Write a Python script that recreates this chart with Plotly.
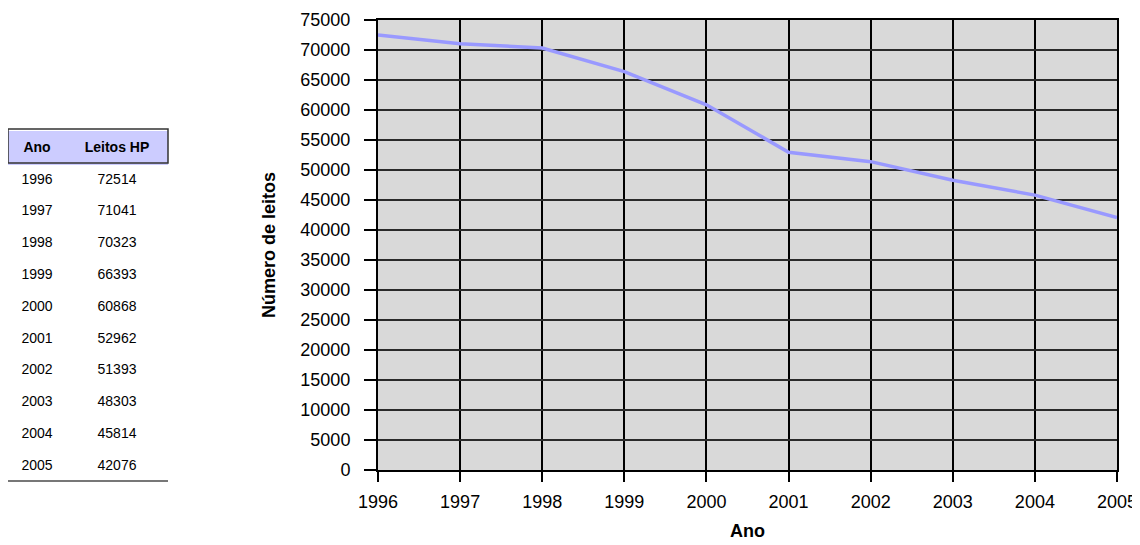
import plotly.graph_objects as go

anos = [1996, 1997, 1998, 1999, 2000, 2001, 2002, 2003, 2004, 2005]
leitos = [72514, 71041, 70323, 66393, 60868, 52962, 51393, 48303, 45814, 42076]
y_ticks = list(range(0, 75001, 5000))

# The page body has an 8px margin, so the figure is drawn 8px smaller and
# every page coordinate is shifted by that offset.
OFF = 8
W, H = 1140 - OFF, 545 - OFF
def px(x):
    return (x - OFF) / W
def py(y):
    return 1 - (y - OFF) / H

fig = go.Figure()

fig.add_trace(go.Scatter(
    x=anos, y=leitos, mode="lines",
    line=dict(color="#9999ff", width=3.5),
    showlegend=False, hoverinfo="x+y",
))

tfont = dict(family="Liberation Sans, Arial, sans-serif", size=14, color="black")
fig.add_trace(go.Table(
    domain=dict(x=[px(8), px(168)], y=[py(515), py(131)]),
    columnwidth=[58, 102],
    header=dict(
        values=["<b>Ano</b>", "<b>Leitos HP</b>"],
        fill_color="#ccccff",
        line=dict(color="#ccccff", width=0),
        align="center",
        height=34,
        font=tfont,
    ),
    cells=dict(
        values=[anos, leitos],
        fill_color="white",
        line=dict(color="white", width=0),
        align="center",
        height=31.8,
        font=tfont,
    ),
))

# header border and bottom rule of the table
fig.add_shape(type="rect", xref="paper", yref="paper",
              x0=px(8), x1=px(168), y0=py(163), y1=py(129),
              line=dict(color="#333333", width=1.5), fillcolor="rgba(0,0,0,0)")
fig.add_shape(type="line", xref="paper", yref="paper",
              x0=px(8), x1=px(168), y0=py(481), y1=py(481),
              line=dict(color="#777777", width=2))

font = dict(family="Liberation Sans, Arial, sans-serif", size=18, color="black")

fig.update_layout(
    width=W, height=H,
    margin=dict(l=0, r=0, t=0, b=0),
    paper_bgcolor="white",
    plot_bgcolor="#d9d9d9",
    font=font,
    xaxis=dict(
        domain=[px(378), px(1117)],
        range=[1996, 2005],
        tickmode="array", tickvals=anos, ticktext=[str(a) for a in anos],
        ticks="outside", ticklen=10, tickwidth=1.5, tickcolor="black",
        showline=True, linecolor="black", linewidth=2, mirror=True,
        showgrid=True, gridcolor="black", gridwidth=1.5,
        zeroline=False,
        tickfont=font,
        ticklabelstandoff=4,
        title=dict(text="<b>Ano</b>", font=font, standoff=14),
        automargin=False,
    ),
    yaxis=dict(
        domain=[py(470), py(20)],
        range=[0, 75000],
        tickmode="array", tickvals=y_ticks, ticktext=[str(v) for v in y_ticks],
        ticks="outside", ticklen=12, tickwidth=1.5, tickcolor="black",
        showline=True, linecolor="black", linewidth=2, mirror=True,
        showgrid=True, gridcolor="#2a2a2a", gridwidth=2,
        zeroline=False,
        tickfont=font,
        ticklabelstandoff=10,
        title=dict(text="<b>Número de leitos</b>", font=font, standoff=20),
        automargin=False,
    ),
)

fig.write_html("out.html")
